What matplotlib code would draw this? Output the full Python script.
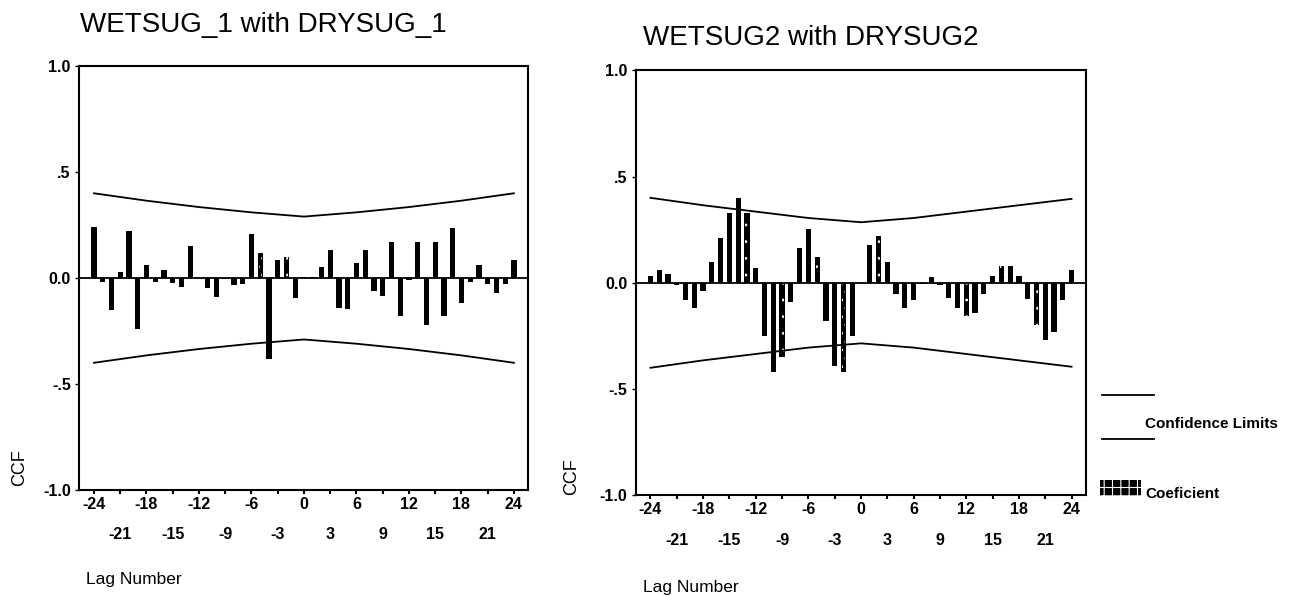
import numpy as np
import matplotlib.pyplot as plt
from matplotlib.lines import Line2D
from matplotlib.patches import Rectangle

plt.rcParams['font.family'] = ['Liberation Sans', 'DejaVu Sans']
plt.rcParams['hatch.linewidth'] = 0.8

lags = list(range(-24, 25))

# cross-correlations, WETSUG_1 with DRYSUG_1
ccf_1 = [0.24, -0.02, -0.15, 0.03, 0.22, -0.24, 0.06, -0.02, 0.04, -0.025,
         -0.04, 0.15, 0.0, -0.045, -0.09, -0.005, -0.035, -0.03, 0.21, 0.12,
         -0.38, 0.085, 0.10, -0.095, 0.005, 0.005, 0.05, 0.13, -0.14, -0.145,
         0.07, 0.13, -0.06, -0.085, 0.17, -0.18, -0.01, 0.17, -0.22, 0.17,
         -0.18, 0.235, -0.12, -0.02, 0.06, -0.03, -0.07, -0.03, 0.085]
patterned_1 = [-5, -2]

# cross-correlations, WETSUG2 with DRYSUG2
ccf_2 = [0.03, 0.06, 0.04, -0.01, -0.08, -0.12, -0.04, 0.10, 0.21, 0.33,
         0.40, 0.33, 0.07, -0.25, -0.42, -0.35, -0.09, 0.165, 0.255, 0.12,
         -0.18, -0.39, -0.42, -0.25, 0.0, 0.18, 0.22, 0.10, -0.055, -0.12,
         -0.08, -0.005, 0.025, -0.01, -0.07, -0.12, -0.155, -0.14, -0.055, 0.03,
         0.08, 0.08, 0.03, -0.075, -0.2, -0.27, -0.23, -0.08, 0.06]
patterned_2 = [-13, -9, -5, -2, 2, 12, 16, 20]

# upper confidence limit at every 6th lag (lower limit is the mirror image)
limit_lags = [-24, -18, -12, -6, 0, 6, 12, 18, 24]
upper_1 = [0.40, 0.365, 0.335, 0.31, 0.29, 0.31, 0.335, 0.365, 0.40]
upper_2 = [0.40, 0.365, 0.335, 0.305, 0.285, 0.305, 0.335, 0.365, 0.395]

major_lags = [-24, -18, -12, -6, 0, 6, 12, 18, 24]
minor_lags = [-21, -15, -9, -3, 3, 9, 15, 21]

fig = plt.figure(figsize=(12.97, 5.96), dpi=100)
ax1 = fig.add_axes([0.061, 0.178, 0.346, 0.711])
ax2 = fig.add_axes([0.490, 0.169, 0.347, 0.713])


def draw_ccf(ax, values, patterned, upper):
    ax.bar(lags, values, width=0.6, color='black', linewidth=0)
    pat_vals = [values[lags.index(k)] for k in patterned]
    ax.bar(patterned, pat_vals, width=0.35, facecolor='none',
           edgecolor='white', hatch='..', linewidth=0)
    ax.axhline(0, color='black', lw=1.3)
    ax.plot(limit_lags, upper, color='black', lw=1.3)
    ax.plot(limit_lags, [-u for u in upper], color='black', lw=1.3)

    ax.set_xlim(-25.7, 25.6)
    ax.set_ylim(-1, 1)
    ax.set_yticks([-1, -0.5, 0, 0.5, 1])
    ax.set_yticklabels(['-1.0', '-.5', '0.0', '.5', '1.0'])
    ax.set_xticks(major_lags)
    ax.set_xticklabels([str(v) for v in major_lags])
    ax.set_xticks(minor_lags, minor=True)
    ax.set_xticklabels([str(v) for v in minor_lags], minor=True)
    ax.tick_params(axis='x', which='major', length=3, width=1.5, pad=2,
                   labelsize=11.5)
    ax.tick_params(axis='x', which='minor', length=3, width=1.5, pad=24,
                   labelsize=11.5)
    ax.tick_params(axis='y', length=3, width=1, pad=3, labelsize=11.5)
    for lab in ax.get_xticklabels(minor=True) + ax.get_xticklabels() + ax.get_yticklabels():
        lab.set_fontweight('bold')
    for sp in ax.spines.values():
        sp.set_linewidth(1.5)


draw_ccf(ax1, ccf_1, patterned_1, upper_1)
draw_ccf(ax2, ccf_2, patterned_2, upper_2)

fig.text(0.062, 0.958, 'WETSUG_1 with DRYSUG_1', fontsize=20, va='center')
fig.text(0.496, 0.936, 'WETSUG2 with DRYSUG2', fontsize=20, va='center')

fig.text(0.066, 0.027, 'Lag Number', fontsize=12.5, va='center')
fig.text(0.496, 0.015, 'Lag Number', fontsize=12.5, va='center')
fig.text(0.015, 0.216, 'CCF', fontsize=13, rotation=90, va='center', ha='center')
fig.text(0.441, 0.201, 'CCF', fontsize=13, rotation=90, va='center', ha='center')

# legend drawn by hand on the right
fig.add_artist(Line2D([0.850, 0.890], [1 - 395 / 596] * 2, color='black', lw=1.3))
fig.add_artist(Line2D([0.850, 0.890], [1 - 439 / 596] * 2, color='black', lw=1.3))
fig.text(0.883, 1 - 424 / 596, 'Confidence Limits', fontsize=11, va='center',
         fontweight='bold')
fig.add_artist(Rectangle((0.848, 1 - 496 / 596), 0.032, 16 / 596,
                         facecolor='black', edgecolor='white', hatch='++',
                         linewidth=0))
fig.text(0.883, 1 - 494 / 596, 'Coeficient', fontsize=11, va='center',
         fontweight='bold')

fig.savefig('out.png', dpi=100)
